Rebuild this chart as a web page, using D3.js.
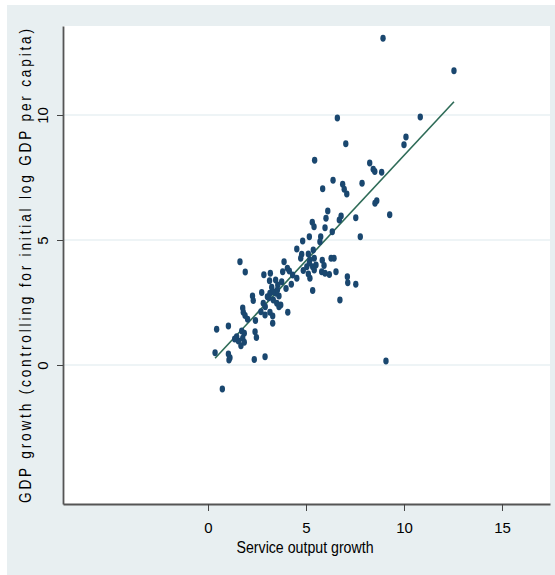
<!DOCTYPE html>
<html>
<head>
<meta charset="utf-8">
<script src="https://cdn.jsdelivr.net/npm/d3@7"></script>
<style>
  body { margin: 0; background: #fff; }
  text { font-family: "Liberation Sans", Arial, sans-serif; fill: #000; }
</style>
</head>
<body>
<div id="chart"></div>
<script>
// service output growth (x) vs GDP growth (y)
var serviceGrowth = [
  8.93, 12.55, 6.60, 10.83, 7.03, 10.10, 10.00, 5.44, 8.25, 8.43,
  8.51, 8.86, 6.38, 5.85, 6.87, 6.95, 7.08, 7.86, 8.61, 8.52,
  6.11, 9.27, 7.54, 6.79, 6.70, 6.02, 5.32, 5.41, 5.97, 6.34,
  7.77, 5.17, 5.75, 4.83, 5.71, 4.53, 4.78, 4.73, 5.12, 5.37,
  5.20, 5.42, 5.51, 5.83, 5.92, 5.80, 6.28, 6.43, 6.53, 5.97,
  6.19, 5.04, 5.34, 4.86, 5.12, 5.20, 5.42, 5.17, 7.11, 7.13,
  7.54, 6.73, 5.34, 4.53, 4.32, 4.25, 3.98, 3.88, 4.05, 4.15,
  3.81, 3.76, 3.56, 3.54, 3.62, 3.47, 3.25, 3.16, 3.03, 3.33,
  2.74, 2.27, 2.31, 2.82, 2.92, 3.11, 3.33, 3.51, 3.71, 2.70,
  2.91, 3.16, 3.30, 3.30, 4.07, 3.62, 1.77, 1.80, 1.89, 2.02,
  2.42, 1.04, 0.44, 2.40, 2.47, 1.72, 1.85, 1.46, 1.55, 1.36,
  1.77, 1.85, 1.68, 0.36, 1.04, 1.12, 1.07, 2.36, 2.91, 0.73,
  9.08, 1.63, 1.90, 2.85, 3.18, 3.14, 3.45
];
var gdpGrowth = [
  13.07, 11.77, 9.88, 9.92, 8.85, 9.12, 8.81, 8.19, 8.08, 7.83,
  7.74, 7.71, 7.39, 7.05, 7.23, 7.03, 6.84, 7.27, 6.57, 6.47,
  6.16, 6.01, 5.89, 5.96, 5.80, 5.87, 5.71, 5.53, 5.49, 5.33,
  5.13, 5.13, 5.13, 4.96, 4.93, 4.64, 4.43, 4.27, 4.44, 4.60,
  4.20, 4.27, 4.00, 4.19, 3.98, 3.73, 4.27, 4.27, 3.73, 3.67,
  3.62, 3.93, 3.93, 3.78, 3.64, 3.47, 3.80, 4.08, 3.53, 3.29,
  3.23, 2.60, 2.98, 3.47, 3.60, 3.23, 3.06, 4.13, 3.87, 3.76,
  3.73, 3.33, 3.20, 3.00, 2.76, 2.87, 3.11, 2.87, 2.73, 2.93,
  2.90, 2.76, 2.58, 2.47, 2.33, 2.69, 2.60, 2.47, 2.40, 2.13,
  2.00, 2.11, 1.96, 1.67, 2.11, 2.33, 2.28, 2.11, 1.98, 1.83,
  1.78, 1.56, 1.43, 1.33, 1.10, 1.36, 1.27, 1.13, 0.96, 1.04,
  1.07, 0.91, 0.77, 0.49, 0.44, 0.29, 0.20, 0.22, 0.33, -0.96,
  0.16, 4.13, 3.72, 3.61, 3.67, 3.37, 3.40
];
// fitted line end points
var fitX = [0.36, 12.55];
var fitY = [0.27, 10.53];
var xTicks = [0, 5, 10, 15];
var yTicks = [0, 5, 10];

var data = serviceGrowth.map(function (d, i) { return { x: d, y: gdpGrowth[i] }; });
var fit = fitX.map(function (d, i) { return { x: d, y: fitY[i] }; });

var margin = { top: 26, right: 5, bottom: 71, left: 63 },
    width = 555 - margin.left - margin.right,
    height = 575 - margin.top - margin.bottom;

var root = d3.select("#chart")
    .append("svg")
    .attr("width", 555)
    .attr("height", 575);

// outer graph region
root.append("rect")
    .attr("x", 7).attr("y", 5)
    .attr("width", 548).attr("height", 570)
    .attr("fill", "#e8eff1");

var svg = root.append("g")
    .attr("transform", "translate(" + margin.left + "," + margin.top + ")");

svg.append("rect")
    .attr("width", width)
    .attr("height", height)
    .attr("fill", "#fff");

var x = d3.scaleLinear()
    .domain([-7.4, 17.45])
    .range([0, width]);

var y = d3.scaleLinear()
    .domain([-5.56, 13.56])
    .range([height, 0]);

// grid lines
svg.append("g")
    .selectAll("line")
    .data(yTicks)
    .join("line")
    .attr("x1", 0)
    .attr("x2", width)
    .attr("y1", d => y(d))
    .attr("y2", d => y(d))
    .attr("stroke", "#e9f1f3")
    .attr("stroke-width", 1.5);

// x axis
var xAxis = svg.append("g")
    .attr("transform", "translate(0," + height + ")")
    .call(d3.axisBottom(x).tickValues(xTicks).tickSize(7).tickSizeOuter(0));
xAxis.select(".domain").attr("stroke", "#555").attr("stroke-width", 1.8);
xAxis.selectAll(".tick line").attr("stroke", "#444");
xAxis.selectAll(".tick text")
    .attr("y", 29)
    .attr("dy", 0)
    .style("font-size", "15px")
    .style("font-family", "'Liberation Sans', Arial, sans-serif")
    .attr("fill", "#000");

// y axis
var yAxis = svg.append("g")
    .call(d3.axisLeft(y).tickValues(yTicks).tickSize(6).tickSizeOuter(0));
yAxis.select(".domain").attr("stroke", "#555").attr("stroke-width", 1.8);
yAxis.selectAll(".tick line").attr("stroke", "#444");
yAxis.selectAll(".tick text")
    .attr("transform", "rotate(-90)")
    .attr("x", 0)
    .attr("y", -15)
    .attr("dy", 0)
    .attr("text-anchor", "middle")
    .style("font-size", "15px")
    .style("font-family", "'Liberation Sans', Arial, sans-serif")
    .attr("fill", "#000");

// axis titles
svg.append("text")
    .attr("x", x(4.95))
    .attr("y", height + 49)
    .attr("text-anchor", "middle")
    .attr("textLength", 137)
    .attr("lengthAdjust", "spacingAndGlyphs")
    .style("font-size", "16px")
    .text("Service output growth");

// narrow glyphs, wide letter spacing
svg.append("text")
    .attr("transform", "translate(-32,240) rotate(-90) scale(0.8,1)")
    .attr("text-anchor", "middle")
    .attr("textLength", 474 / 0.8)
    .attr("lengthAdjust", "spacing")
    .style("font-size", "17px")
    .attr("fill", "#1a1a1a")
    .text("GDP growth (controlling for initial log GDP per capita)");

// fitted line
svg.append("path")
    .datum(fit)
    .attr("fill", "none")
    .attr("stroke", "#2e6b57")
    .attr("stroke-width", 1.6)
    .attr("d", d3.line()
        .x(d => x(d.x))
        .y(d => y(d.y)));

// dots
svg.append("g")
    .selectAll("ellipse")
    .data(data)
    .join("ellipse")
    .attr("cx", d => x(d.x))
    .attr("cy", d => y(d.y))
    .attr("rx", 2.7)
    .attr("ry", 3.4)
    .attr("fill", "#1a476f");
</script>
</body>
</html>
